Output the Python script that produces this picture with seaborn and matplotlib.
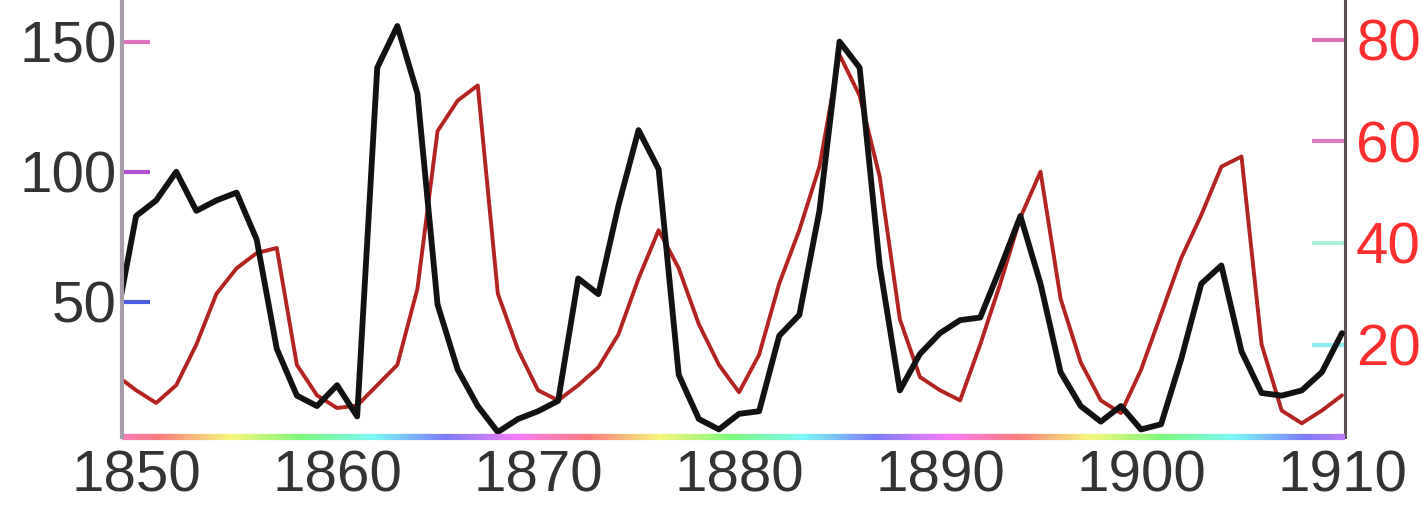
import numpy as np
import pandas as pd
import seaborn as sns
import matplotlib.pyplot as plt
import matplotlib.colors as mcolors
from matplotlib.collections import LineCollection

# yearly values (left axis: hare, right axis: lynx)
years = list(range(1849, 1911))
hare = [42, 83, 89, 100, 85, 89, 92, 74, 32, 14,
        10, 18, 6, 140, 156, 130, 49, 24, 10, 0,
        5, 8, 12, 59, 53, 87, 116, 101, 22, 5,
        1, 7, 8, 37, 45, 85, 150, 140, 64, 16,
        30, 38, 43, 44, 63, 83, 57, 23, 10, 4,
        10, 1, 3, 28, 57, 64, 31, 15, 14, 16,
        23, 38]
lynx = [14, 11, 8.5, 12, 20, 30, 35, 38, 39, 16,
        10, 7.5, 8, 12, 16, 31, 62, 68, 71, 30,
        19, 11, 9, 12, 15.5, 22, 33, 42.5, 35, 24,
        16, 10.6, 18, 32, 42.5, 55, 77, 69, 53, 25,
        13.6, 11, 9, 20, 32, 45, 54, 29, 16.5, 9,
        6.5, 15, 26, 37, 45.5, 55, 57, 20, 7, 4.5,
        7, 10]

x_ticks = [1850, 1860, 1870, 1880, 1890, 1900, 1910]
left_ticks = [50, 100, 150]
right_ticks = [20, 40, 60, 80]

df = pd.DataFrame({'year': years, 'hare': hare, 'lynx': lynx})

sns.set_style('white')
plt.rcParams['font.family'] = ['Liberation Sans', 'DejaVu Sans']

fig = plt.figure(figsize=(14.22, 5.14), dpi=100)
ax = fig.add_axes([122 / 1422, 77 / 514, 1223 / 1422, 437 / 514])
ax2 = ax.twinx()

# lynx (red) behind, hare (black) on top
sns.lineplot(data=df, x='year', y='lynx', ax=ax2, color='#b3231f', linewidth=2.8)
sns.lineplot(data=df, x='year', y='hare', ax=ax, color='#121212', linewidth=4.2)
ax.set_zorder(ax2.get_zorder() + 1)
ax.patch.set_visible(False)

ax.set_xlim(1849.3, 1910.15)
ax.set_ylim(-1.9, 166)
ax2.set_ylim(1.8, 87.8)

ax.set_xlabel('')
ax.set_ylabel('')
ax2.set_ylabel('')

ax.set_xticks(x_ticks)
ax.set_yticks(left_ticks)
ax2.set_yticks(right_ticks)

ax.tick_params(axis='x', direction='in', length=8, width=2, color='#666666',
               labelsize=42, labelcolor='#333333', pad=9)
ax.tick_params(axis='y', direction='in', length=20, width=3,
               labelsize=42, labelcolor='#333333', pad=4)
ax2.tick_params(axis='y', direction='in', length=24, width=3,
                labelsize=42, labelcolor='#ff2e2e', pad=8)

for a in (ax, ax2):
    for side in ('top', 'bottom', 'left', 'right'):
        a.spines[side].set_visible(False)
ax.spines['left'].set_visible(True)
ax.spines['left'].set_color('#a59ea8')
ax.spines['left'].set_linewidth(3)
ax2.spines['right'].set_visible(True)
ax2.spines['right'].set_color('#5c5058')
ax2.spines['right'].set_linewidth(2.2)

# pastel rainbow strip along the bottom edge
xs = np.linspace(1849.3, 1910.15, 300)
hues = ((xs - 1849.3) * 20.1 / 430 + 0.92) % 1.0
cols = [mcolors.hsv_to_rgb((h, 0.5, 0.97)) for h in hues]
pts = np.column_stack([xs, np.zeros_like(xs)])
segs = np.stack([pts[:-1], pts[1:]], axis=1)
strip = LineCollection(segs, colors=cols[:-1], linewidths=4.5,
                       transform=ax.get_xaxis_transform(), clip_on=False)
ax.add_collection(strip)

# tick marks were coloured in the scan; set them after ticks exist
fig.canvas.draw()
for t, c in zip(ax.yaxis.get_major_ticks(), ['#4a5ee0', '#b44fd0', '#e070c0']):
    t.tick1line.set_color(c)
    t.tick1line.set_markeredgecolor(c)
for t, c in zip(ax2.yaxis.get_major_ticks(), ['#8ceeee', '#a8f0d8', '#e07cc0', '#e070b4']):
    t.tick2line.set_color(c)
    t.tick2line.set_markeredgecolor(c)

fig.savefig('out.png', dpi=100, facecolor='white')
